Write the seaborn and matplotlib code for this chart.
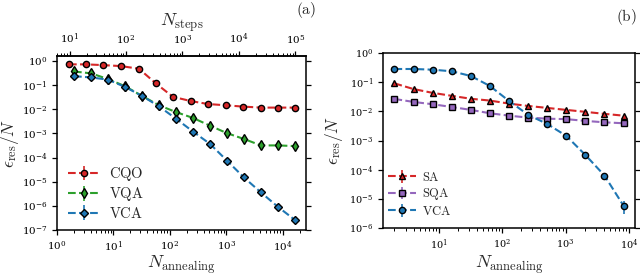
import numpy as np
import pandas as pd
import matplotlib
matplotlib.use("Agg")
import matplotlib.pyplot as plt
import seaborn as sns
from matplotlib.ticker import NullLocator, LogLocator

# ---------------- data: panel (a) ----------------
cqo_x = [1.63, 3.26, 6.5, 13.6, 28.3, 56.5, 113, 235, 471, 980, 1960, 4080, 8170, 16300]
cqo_y = [0.73, 0.73, 0.68, 0.62, 0.48, 0.118, 0.033, 0.022, 0.0166, 0.0147, 0.013, 0.0118, 0.0118, 0.0118]
cqo_err = [0.03, 0.03, 0.04, 0.05, 0.06, 0.015, 0.005, 0.004, 0.004, 0.004, 0.004, 0.004, 0.004, 0.004]

va_x = [2, 4, 8, 16, 32, 64, 128, 256, 512, 1024, 2048, 4096, 8192, 16384]
vqa_y = [0.37, 0.31, 0.18, 0.091, 0.036, 0.0147, 0.0077, 0.0044, 0.0021, 0.00103, 0.00059, 0.00032, 0.00032, 0.0003]
vqa_err = [0.06, 0.05, 0.03, 0.015, 0.006, 0.003, 0.0018, 0.001, 0.0005, 0.00025, 0.00015, 0.0001, 0.0001, 0.0001]
vca_a_y = [0.237, 0.21, 0.17, 0.085, 0.036, 0.0133, 0.0041, 0.0012, 3.7e-4, 7.5e-5, 1.5e-5, 3.6e-6, 9.1e-7, 2.6e-7]
vca_a_err = [0.03, 0.03, 0.02, 0.01, 0.004, 0.0015, 0.0004, 0.0001, 3e-5, 6e-6, 1.2e-6, 3e-7, 7e-8, 2e-8]

# ---------------- data: panel (b) ----------------
b_x = [2, 4, 8, 16, 32, 64, 128, 256, 512, 1024, 2048, 4096, 8192]
sa_y = [0.091, 0.058, 0.043, 0.034, 0.027, 0.0234, 0.0184, 0.0153, 0.0131, 0.0112, 0.0096, 0.0082, 0.0071]
sa_err = [0.006, 0.004, 0.003, 0.002, 0.0015, 0.0012, 0.001, 0.0008, 0.0007, 0.0006, 0.0005, 0.0005, 0.0004]
sqa_y = [0.0266, 0.021, 0.0175, 0.0141, 0.0112, 0.0086, 0.0071, 0.0061, 0.0056, 0.0054, 0.0047, 0.0042, 0.0039]
sqa_err = [0.0015, 0.0012, 0.001, 0.0008, 0.0006, 0.0005, 0.0004, 0.0003, 0.0003, 0.0003, 0.0003, 0.0002, 0.0002]
vca_b_y = [0.283, 0.283, 0.268, 0.236, 0.163, 0.074, 0.0227, 0.0076, 0.0037, 0.00144, 3.2e-4, 6.3e-5, 5.8e-6]
vca_b_err = [0.01, 0.01, 0.01, 0.01, 0.008, 0.004, 0.0012, 0.0005, 0.0003, 0.0001, 3e-5, 8e-6, 2.8e-6]

steps_factor = 6.0  # N_steps / N_annealing for the top axis

RED, GREEN, BLUE, PURPLE = "#d62728", "#2ca02c", "#1f77b4", "#9467bd"

sns.set_theme(style="ticks")
plt.rcParams["font.family"] = ["DejaVu Serif", "DejaVu Sans"]
plt.rcParams["mathtext.fontset"] = "cm"
plt.rcParams["axes.linewidth"] = 1.1
plt.rcParams["axes.edgecolor"] = "black"
plt.rcParams["xtick.color"] = "black"
plt.rcParams["ytick.color"] = "black"
plt.rcParams["xtick.major.size"] = 3.5
plt.rcParams["ytick.major.size"] = 3.5
plt.rcParams["xtick.minor.size"] = 2
plt.rcParams["xtick.major.width"] = 0.9
plt.rcParams["ytick.major.width"] = 0.9
plt.rcParams["xtick.minor.width"] = 0.7

fig = plt.figure(figsize=(6.4, 2.76), dpi=100)
axa = fig.add_axes([57 / 640, 1 - 230 / 276, (306 - 57) / 640, (230 - 56) / 276])
axb = fig.add_axes([383 / 640, 1 - 228 / 276, (635 - 383) / 640, (228 - 53) / 276])


def series(ax, x, y, err, color, marker, ms, label):
    df = pd.DataFrame({"x": x, "y": y})
    sns.lineplot(data=df, x="x", y="y", ax=ax, color=color, linestyle="--",
                 linewidth=1.5, marker=marker, markersize=ms,
                 markeredgecolor="black", markeredgewidth=1.0,
                 markerfacecolor=color, legend=False, zorder=3)
    ax.errorbar(x, y, yerr=err, fmt="none", ecolor=color, elinewidth=1.2,
                capsize=0, zorder=2)
    h = ax.errorbar([np.nan], [np.nan], yerr=[np.nan], fmt="--", color=color,
                    marker=marker, markersize=ms, markeredgecolor="black",
                    markeredgewidth=1.0, markerfacecolor=color, linewidth=1.5,
                    elinewidth=1.2, label=label)
    return h


ha = [series(axa, cqo_x, cqo_y, cqo_err, RED, "o", 4.5, r"$\mathrm{CQO}$"),
      series(axa, va_x, vqa_y, vqa_err, GREEN, "d", 5, r"$\mathrm{VQA}$"),
      series(axa, va_x, vca_a_y, vca_a_err, BLUE, "D", 4.5, r"$\mathrm{VCA}$")]

hb = [series(axb, b_x, sa_y, sa_err, RED, "^", 4.5, r"$\mathrm{SA}$"),
      series(axb, b_x, sqa_y, sqa_err, PURPLE, "s", 4.5, r"$\mathrm{SQA}$"),
      series(axb, b_x, vca_b_y, vca_b_err, BLUE, "o", 4.5, r"$\mathrm{VCA}$")]

for ax in (axa, axb):
    ax.set_xscale("log")
    ax.set_yscale("log")
    ax.yaxis.set_minor_locator(NullLocator())
    ax.xaxis.set_minor_locator(LogLocator(base=10, subs=np.arange(2, 10), numticks=20))
    ax.tick_params(axis="both", which="both", direction="out", top=False, right=True)
    ax.set_xlabel(r"$N_{\mathrm{annealing}}$", fontsize=13, va="center")
    ax.set_ylabel(r"$\epsilon_{\mathrm{res}}/N$", fontsize=12.5, va="center")
    for s in ax.spines.values():
        s.set_visible(True)

axa.xaxis.set_label_coords(0.5, (230 - 265) / 174)
axa.yaxis.set_label_coords((10 - 57) / 249, 0.5)
axb.xaxis.set_label_coords(0.5, (228 - 265) / 175)
axb.yaxis.set_label_coords((334 - 383) / 252, 0.5)

axa.set_xlim(1, 10 ** 4.41)
axa.set_ylim(1e-7, 10 ** 0.21)
axa.set_yticks([10.0 ** k for k in range(-7, 1)])
axa.set_xticks([10.0 ** k for k in range(0, 5)])
axa.tick_params(axis="both", which="major", labelsize=7.5)

axb.set_ylim(1e-6, 1)
axb.set_yticks([10.0 ** k for k in range(-6, 1)])
axb.set_xticks([10.0 ** k for k in range(1, 5)])
axb.tick_params(axis="both", which="major", labelsize=7)

top = axa.secondary_xaxis("top", functions=(lambda v: v * steps_factor,
                                            lambda v: v / steps_factor))
top.set_xticks([10.0 ** k for k in range(1, 6)])
top.xaxis.set_minor_locator(LogLocator(base=10, subs=np.arange(2, 10), numticks=20))
top.tick_params(axis="x", which="both", direction="out", labelsize=7.5)
top.set_xlabel(r"$N_{\mathrm{steps}}$", fontsize=13, labelpad=4)

axa.legend(handles=ha, loc="lower left", bbox_to_anchor=(0.02, 0.02),
           frameon=False, fontsize=10.5, handlelength=2.2, handletextpad=0.6,
           labelspacing=0.15, borderaxespad=0.0)
axb.legend(handles=hb, loc="lower left", bbox_to_anchor=(0.0, 0.03),
           frameon=False, fontsize=9, handlelength=2.2, handletextpad=0.5,
           labelspacing=0.2, borderaxespad=0.0)

fig.text(306 / 640, 1 - 10 / 276, r"$\mathrm{(a)}$", ha="center", va="center", fontsize=11)
fig.text(626 / 640, 1 - 17 / 276, r"$\mathrm{(b)}$", ha="center", va="center", fontsize=11)

fig.savefig("out.png", dpi=100)
